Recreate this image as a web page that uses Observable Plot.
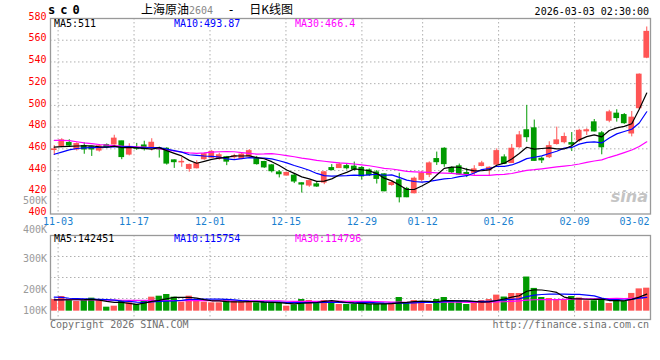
<!DOCTYPE html>
<html><head><meta charset="utf-8">
<script src="https://cdn.jsdelivr.net/npm/d3@7"></script>
<script src="https://cdn.jsdelivr.net/npm/@observablehq/plot@0.6"></script>
<style>
body{margin:0;background:#fff;}
#wrap{position:relative;width:660px;height:360px;overflow:hidden;background:#fff;}
#wrap svg{position:absolute;left:0;}
.t{position:absolute;white-space:pre;line-height:10px;font-family:"DejaVu Sans Mono",monospace;font-size:10px;}
</style></head><body><div id="wrap"></div>
<script>
// ---- data (80 trading days, 10-31 .. 03-02) ----
const openP = [459.0,462.5,465.3,459.5,462.5,461.5,458.5,463.3,464.1,466.8,
454.8,460.8,463.0,461.6,460.3,460.0,449.3,447.6,441.6,442.2,
450.5,451.8,450.8,452.2,452.3,450.9,453.2,450.9,447.8,444.7,
438.2,435.5,435.2,428.2,426.3,427.2,429.0,442.2,442.4,444.0,
443.5,442.3,440.1,438.2,436.4,426.8,430.9,423.0,419.2,431.5,
436.2,450.5,460.0,442.3,443.8,437.6,438.0,444.3,440.5,445.5,
452.0,447.0,461.6,477.0,478.8,450.8,452.4,464.5,466.2,465.2,
467.7,476.2,484.3,474.2,486.0,492.3,491.0,474.2,497.5,544.0];
const closeP = [459.4,467.7,463.1,464.3,459.5,459.5,462.3,461.8,469.3,452.5,
460.5,460.2,459.8,465.5,459.6,446.5,447.8,447.9,445.0,446.5,
455.0,457.0,454.0,448.3,453.0,454.6,457.8,446.0,443.0,439.5,
436.7,437.7,430.0,427.2,430.2,425.4,438.3,440.5,445.3,442.2,
441.0,434.7,435.8,432.4,421.0,428.5,415.5,415.5,432.4,437.3,
446.5,447.8,446.0,438.5,436.4,436.6,441.0,446.5,442.5,457.8,
446.2,460.0,472.3,470.8,449.0,449.5,462.4,467.7,470.8,464.0,
476.5,477.0,476.1,461.5,493.5,488.4,483.7,488.6,528.2,567.6];
const highP = [463,469.3,468.4,465.5,465.5,462,464,464.5,472.5,467,
464.7,465,467,469.3,461.6,461,449.8,452,446,449,
456,458.5,456,453,455,456.5,459.3,453,448.5,445.5,
440,438.5,437,428.8,431,429,439,445.5,447,446.5,
447.8,443.5,441.5,440,437,430,437.5,424.5,434,439.5,
448,457,461,443.3,446,442,444.5,448.5,443.5,460,
454.5,464,476,500,486.5,452.5,466.5,480,474.5,475,
478,478.5,487,476,495.5,496,492.5,494.4,529,572.2];
const lowP = [454,461,462.2,458,455,453,457,461,463.5,450,
453.5,458.5,458,458,451.5,445,442,443,438.5,441.5,
449.5,451,449.5,444.5,450.5,450,452.5,445,442,437.8,
433.2,435,428,419.3,424.6,424.5,427,439.7,442,440.5,
439.6,431.2,434.5,427.6,420.5,425.5,410.2,415,418.5,429.5,
433.5,444.7,443,437,435.5,433.5,435.5,443.5,434.5,445,
445.5,446.5,460.5,466,448.5,446.5,451,463.5,464.5,457.5,
466,472.3,475.5,454.5,484,484.6,482.5,471,496,543];
const volume = [97300,122400,89000,80600,89000,108500,97300,33400,41700,86200,
69500,55600,80600,116800,125100,139100,116800,75100,125100,89000,
75100,69500,69500,97300,80600,75100,75100,69500,75100,69500,
69500,41700,52800,97300,89000,80600,89000,80600,55600,55600,
55600,80600,55600,55600,55600,69500,114000,69500,89000,80600,
55600,97300,114000,89000,77900,55600,69500,89000,97300,134000,
118000,147400,147400,285000,190000,114000,105700,89000,89000,122400,
110000,87000,87000,96300,64000,105700,80600,148000,186000,192000];
const ma5Head = [461.5,462.0,462.3,462.6];
const ma10Head = [455.0,457.0,459.0,460.3,460.8,461.1,461.3,461.5,461.7];
const ma30Head = [467.8,467.8,467.5,466.5,465.5,464.8,464.0,463.5,463.0,462.5,
462.2,461.8,461.5,461.0,460.0,459.0,458.0,457.0,456.2,455.8,
456.3,457.0,457.3,457.5,457.3,456.5,455.8,455.2,455.3];
const vma5Head = [94500,95000,95500,95500];
const vma10Head = [117000,115000,108000,105000,103000,100000,98000,96000,92000];
const vma30Head = [97000,97000,96500,96000,95000,94000,93000,92000,91500,91000,
90500,90000,89500,89500,89000,89000,89000,88500,88500,88000,
88000,87500,87500,87000,87000,87000,86500,86500,86500];
const tickLabels = ["11-03","11-17","12-01","12-15","12-29","01-12","01-26","02-09","03-02"];
const tickIndex = [1,11,21,31,41,49,59,69,79];
const yTicks = [400,420,440,460,480,500,520,540,560,580];
const volTickLabels = ["500K","400K","300K","200K","100K"];
const maLabels = ["MA5:511","MA10:493.87","MA30:466.4"];
const volMaLabels = ["MA5:142451","MA10:115754","MA30:114796"];

// ---- derived ----
const N = openP.length;
const UP = "#ff5555", DOWN = "#009a00";
const candles = d3.range(N).map(i => ({i, o: openP[i], c: closeP[i], h: highP[i], l: lowP[i], v: volume[i], col: closeP[i] >= openP[i] ? UP : DOWN}));
function sma(vals, n, head) {
  return vals.map((_, i) => ({i, v: i < n - 1 ? head[i] : d3.mean(vals.slice(i - n + 1, i + 1))}));
}
const ma5 = sma(closeP, 5, ma5Head), ma10 = sma(closeP, 10, ma10Head), ma30 = sma(closeP, 30, ma30Head);
const vma5 = sma(volume, 5, vma5Head), vma10 = sma(volume, 10, vma10Head), vma30 = sma(volume, 30, vma30Head);
// Sina places date gridlines on a grid of N-1 steps across the frame
const gridPos = k => k * N / (N - 1) - 0.5;
const xDom = [-0.5, N - 0.5];
const gridStyle = {stroke: "#b0b0b0", strokeDasharray: "1.5,2.5"};
const fontStyle = {fontFamily: "'DejaVu Sans Mono', monospace", fontSize: "10px", overflow: "visible", background: "transparent"};

const main = Plot.plot({
  width: 660, height: 232, marginLeft: 50, marginRight: 10, marginTop: 18, marginBottom: 18.5,
  x: {domain: xDom, axis: null},
  y: {domain: [400, 580], axis: null},
  style: fontStyle,
  marks: [
    Plot.ruleY(yTicks.slice(1, -1), gridStyle),
    Plot.ruleX(tickIndex.slice(0, -1).map(gridPos), gridStyle),
    Plot.axisY({ticks: yTicks, tickSize: 0, tickPadding: 4, fill: "#ff0000", dy: -2, label: null, tickFormat: d => d}),
    Plot.ruleX(candles, {x: "i", y1: "l", y2: "h", stroke: "col", strokeWidth: 1}),
    Plot.rect(candles, {x1: d => d.i - 0.38, x2: d => d.i + 0.38, y1: d => Math.min(d.o, d.c), y2: d => Math.max(d.o, d.c), fill: "col", insetTop: -0.6, insetBottom: -0.6}),
    Plot.lineY(ma30, {x: "i", y: "v", stroke: "#ff00ff", strokeWidth: 1.2}),
    Plot.lineY(ma10, {x: "i", y: "v", stroke: "#0000ff", strokeWidth: 1.2}),
    Plot.lineY(ma5, {x: "i", y: "v", stroke: "#000000", strokeWidth: 1.2}),
    Plot.frame({stroke: "#999", strokeWidth: 1.3}),
    Plot.text(tickIndex.slice(0, -1), {x: gridPos, text: (k, j) => tickLabels[j], frameAnchor: "bottom", dy: 8, lineAnchor: "middle", fill: "#1a7fd0"}),
    Plot.text(tickIndex.slice(-1), {x: gridPos, text: () => tickLabels[tickLabels.length - 1], frameAnchor: "bottom", dy: 8, dx: -1, lineAnchor: "middle", textAnchor: "end", fill: "#1a7fd0"})
  ]
});
main.style.top = "0px";

const volDom = [-69500, 631600];
const volGrid = [1, 2, 3].map(k => volDom[0] + k * (volDom[1] - volDom[0]) / 4);
const vol = Plot.plot({
  width: 660, height: 98, marginLeft: 50, marginRight: 10, marginTop: 3, marginBottom: 11,
  x: {domain: xDom, axis: null},
  y: {domain: volDom, axis: null},
  style: fontStyle,
  marks: [
    Plot.ruleY(volGrid, gridStyle),
    Plot.ruleX(tickIndex.slice(0, -1).map(gridPos), gridStyle),
    Plot.rect(candles, {x1: d => d.i - 0.42, x2: d => d.i + 0.42, y1: 0, y2: "v", fill: "col"}),
    Plot.lineY(vma30, {x: "i", y: "v", stroke: "#ff00ff", strokeWidth: 1.2}),
    Plot.lineY(vma10, {x: "i", y: "v", stroke: "#0000ff", strokeWidth: 1.2}),
    Plot.lineY(vma5, {x: "i", y: "v", stroke: "#000000", strokeWidth: 1.2}),
    Plot.frame({stroke: "#999", strokeWidth: 1.3})
  ]
});
vol.style.top = "232px";

const wrap = document.getElementById("wrap");
wrap.appendChild(main);
wrap.appendChild(vol);

function addText(txt, x, yc, opts = {}) {
  const s = document.createElement("div");
  s.className = "t";
  s.textContent = txt;
  s.style.top = (yc - 5) + "px";
  if (opts.right) { s.style.right = (660 - x) + "px"; } else { s.style.left = x + "px"; }
  s.style.color = opts.color || "#000";
  if (opts.css) Object.assign(s.style, opts.css);
  wrap.appendChild(s);
  return s;
}
// header
addText("sc0", 48, 10, {css: {fontWeight: "bold", fontSize: "12px", letterSpacing: "5px", lineHeight: "12px", top: "4px"}});
const title = addText("", 141, 10, {css: {fontFamily: "'Noto Sans CJK SC', sans-serif", fontSize: "12px", lineHeight: "14px", top: "2px"}});
title.innerHTML = '上海原油<span style="color:#888;font-family:\'DejaVu Sans Mono\',monospace;font-size:10px">2604</span><span style="font-family:\'DejaVu Sans Mono\',monospace">  -  </span>日K线图';
addText("2026-03-03 02:30:00", 649, 12, {right: true});
// MA legends
const maColors = ["#000", "#0000ff", "#ff00ff"];
const maX = [54, 174, 295];
maLabels.forEach((t, j) => addText(t, maX[j], 24, {color: maColors[j]}));
volMaLabels.forEach((t, j) => addText(t, maX[j], 238.5, {color: maColors[j]}));
// volume axis labels
const volLabY = [201, 230, 259, 290, 311];
volTickLabels.forEach((t, j) => addText(t, 47, volLabY[j], {right: true, color: "#9a9a9a"}));
// watermark + footer
addText("sina", 648, 197, {right: true, color: "#c4c4c4", css: {fontFamily: "'DejaVu Sans', sans-serif", fontWeight: "bold", fontStyle: "italic", fontSize: "16px", lineHeight: "16px", top: "189px"}});
addText("Copyright 2026 SINA.COM", 50, 324.5, {color: "#707070"});
addText("http://finance.sina.com.cn", 649, 325, {right: true, color: "#707070"});
</script></body></html>
